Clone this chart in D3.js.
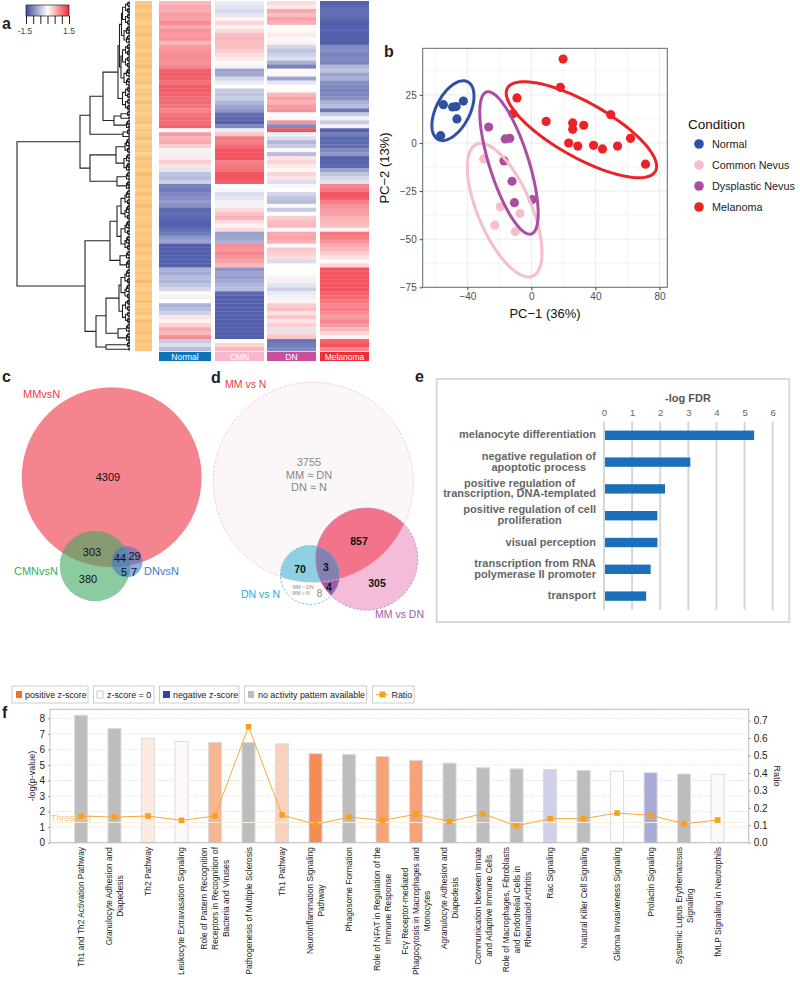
<!DOCTYPE html>
<html>
<head>
<meta charset="utf-8">
<script src="https://cdn.jsdelivr.net/npm/d3@7"></script>
<style>
  html, body { margin: 0; padding: 0; background: #fff; }
  text { font-family: "Liberation Sans", Arial, sans-serif; }
</style>
</head>
<body>
<svg id="fig" width="800" height="981"></svg>
<script>
// panel a, one value per row, top to bottom
const heatNormal = [.5,.6,.6,.7,.65,.8,.6,.75,.7,.75,.5,.7,.75,.8,.8,.75,.85,1.1,1.15,1.1,1,1.15,1.15,1.1,1.05,1.05,1,.85,1,1.05,1.05,1.1,.05,.7,.55,.6,.35,.1,-.1,.15,.35,.2,-.2,-.45,-.5,-.35,-.95,-1,-.9,-.85,-.75,-.85,-1.15,-1.1,-1.15,-1.2,-1.2,-1.1,-1,-.8,-.7,-1.3,-1.3,-1.25,-1.3,-1.3,-1.25,-.6,-.65,-.5,-.55,-.45,-.3,.05,-.1,0,-.6,-.5,-.35,.2,.1,.3,.6,.5,.8,-.4,-.25,-.5];
const heatCMN = [-.15,-.2,-.3,-.2,.1,.3,.1,.25,.45,.5,.45,.45,.35,.25,.15,.05,-.1,-.7,-.65,-.3,-.15,0,-.4,-.45,-.4,-.55,-.7,-.8,-1.1,-1.15,-1.2,-.9,-.15,.4,.95,.9,1.05,1.2,1.2,1.2,.9,.95,1,1.25,1.2,1.15,0,-.05,-.25,-.2,-.1,.1,.25,.4,.55,.25,.1,.25,-.7,-.7,-.6,.8,.75,.85,.75,.65,.5,-.8,-.7,-.75,-.65,-.55,-.5,-1.15,-1.2,-1.25,-1.2,-1.25,-1.25,-1.3,-1.3,-1.35,-1.3,-1.25,-1.35,0,.3,.5];
const heatDN = [.25,.15,.6,.45,.65,.55,.02,.05,.15,.05,.1,-.3,-.45,-.35,-.25,-.6,-.95,.05,-.05,-.7,-.2,0,.02,.5,.65,.55,.7,.75,0,-.05,.75,-.9,1.3,-.1,-.25,-.55,-.4,.05,-.5,.2,.3,.15,.05,.3,.2,-.25,-.05,0,-.3,-.45,-.5,-.05,-.4,0,.35,.45,.5,.05,.6,.65,.55,.05,.4,.35,.25,-.25,0,.03,0,.1,-.1,-.2,-.35,-.15,-.1,.1,.35,.45,.2,.4,.2,.35,-.2,.25,.4,-1.05,-1,-.9];
const heatMelanoma = [-1.2,-1.15,-1.1,-1.1,-1.15,-1.2,-1.2,-1.15,-1.2,-1.3,-1.3,-.9,-.85,-.95,-.9,-.95,-.55,-.45,-.7,-.6,-.85,-.9,-.95,-.9,-.85,-.6,-.5,-1.05,-.4,-.1,-.4,-.1,-1.35,-1,-1.15,-1.15,-1.1,-.9,-.8,-1.4,-1.35,-1.15,-.7,-.45,-.3,-.2,.85,.95,1.2,1.15,.9,.75,.7,.65,.55,.5,.45,.1,.95,.9,.75,.6,.5,.35,.2,.05,.3,1.25,1.3,1.3,1.25,1.25,1.2,1.1,1.05,.95,.85,.9,.8,.7,.85,.7,.5,.3,.1,1.1,1.2,.85];
const heatStrip = [.4,.6,.3,.7,.5,.2,.6,.4,.8,.3,.5,.6,.2,.7,.4,.5,.9,.3,.6,.4,.7,.2,.5,.6,.3,.8,.4,.5,.3,.6,.7,.2,.5,.4,.8,.3,.6,.5,.2,.7,.4,.6,.3,.9,.5,.4,.6,.2,.7,.3,.5,.8,.4,.6,.3,.5,.7,.2,.6,.4,.5,.8,.3,.6,.2,.5,.7,.4,.6,.3,.9,.5,.2,.6,.4,.7,.3,.5,.6,.2,.8,.4,.5,.7,.3,.6,.4,.5];
const heatGroups = ["Normal", "CMN", "DN", "Melanoma"];

// dendrogram: [height, child, child], 0 is a leaf
const q1 = [1.2,0,0], q2 = [2.5,q1,q1], q3 = [3.5,q2,q1], q4 = [4.5,q2,q2], q5 = [5,q3,q2], q6 = [6,q3,q3], q8 = [7.5,q4,q4], q10 = [9,q5,q5];
const dendroTop = [40, [27, [12, [10.5,[8.5,q8,q6],[9,q8,q6]], q8], [16,[9,q2,q1],q3]], [7,q2,q1]];
const dendroMid = [40, [14,q5,q6], [13,q3,q3]];
const dendroLow = [20, [13,q10,q10], [10,q3,q3]];
const dendroEnd = [34, [24,[11,q10,q8],[12,q3,q3]], [24,q2,q1]];
const dendro = [113, [50,dendroTop,dendroMid], [45,dendroLow,dendroEnd]];

// panel b
const pcaConditions = ["Normal", "Common Nevus", "Dysplastic Nevus", "Melanoma"];
const pcaNormal = [[-55,19.9],[-49.2,18.7],[-47,18.9],[-42.5,21.8],[-46.5,12.5],[-56.7,3.8]];
const pcaCommon = [[-29.8,-8.3],[-19.4,-33.2],[-22.9,-42.7],[-7.1,-36.7],[-10,-46]];
const pcaDysplastic = [[-26.7,8.3],[-16.3,2.1],[-13.5,2.4],[-17.1,-9.3],[-12.1,-19.9],[-10.6,-31],[.6,-29.4]];
const pcaMelanoma = [[19.8,43.6],[18.1,28.9],[-9,23.4],[-11.5,15.2],[9.2,11.2],[25.8,10.4],[25.8,7.1],[32.7,9.2],[49.6,14.7],[61.9,2.4],[23.3,0],[29,-1.6],[38.8,-1.2],[44.4,-3.1],[53.8,-1.6],[71.3,-11]];
// centre, then the two semi axes, in data units
const pcaEllipses = [
  [[-49,16.8],[9.2,15],[9.4,-4]],
  [[-16.7,-34.9],[17.5,-34.3],[15.4,5.4]],
  [[-14,-10.4],[14,-36.9],[11.7,3.1]],
  [[31.25,6.9],[46.25,-21.6],[8.3,12.5]]
];

// panel e
const goTerms = [
  ["melanocyte differentiation"],
  ["negative regulation of", "apoptotic process"],
  ["positive regulation of", "transcription, DNA-templated"],
  ["positive regulation of cell", "proliferation"],
  ["visual perception"],
  ["transcription from RNA", "polymerase II promoter"],
  ["transport"]
];
const goFdr = [5.34, 3.07, 2.17, 1.9, 1.9, 1.66, 1.5];

// panel f
const pathways = [
  ["Th1 and Th2 Activation Pathway"],
  ["Granulocyte Adhesion and", "Diapedesis"],
  ["Th2 Pathway"],
  ["Leukocyte Extravasation Signaling"],
  ["Role of Pattern Recognition", "Receptors in Recognition of", "Bacteria and Viruses"],
  ["Pathogenesis of Multiple Sclerosis"],
  ["Th1 Pathway"],
  ["Neuroinflammation Signaling", "Pathway"],
  ["Phagosome Formation"],
  ["Role of NFAT in Regulation of the", "Immune Response"],
  ["Fc\u03b3 Receptor-mediated", "Phagocytosis in Macrophages and", "Monocytes"],
  ["Agranulocyte Adhesion and", "Diapedesis"],
  ["Communication between Innate", "and Adaptive Immune Cells"],
  ["Role of Macrophages, Fibroblasts", "and Endothelial Cells in", "Rheumatoid Arthritis"],
  ["Rac Signaling"],
  ["Natural Killer Cell Signaling"],
  ["Glioma Invasiveness Signaling"],
  ["Prolactin Signaling"],
  ["Systemic Lupus Erythematosus", "Signaling"],
  ["fMLP Signaling in Neutrophils"]
];
const pValues = [8.2,7.35,6.72,6.52,6.45,6.45,6.36,5.73,5.67,5.55,5.3,5.12,4.82,4.75,4.7,4.65,4.6,4.5,4.42,4.4];
const ratios = [.153,.147,.153,.128,.153,.665,.159,.105,.147,.128,.163,.122,.166,.096,.138,.138,.17,.157,.109,.13];
const zScores = [null,null,.35,.1,1.3,null,.8,2,null,1.6,1.6,null,null,null,-.6,null,0,-1.1,null,.1];

const svg = d3.select("#fig");
const label = (x, y, t, size, fill, weight) => svg.append("text")
  .attr("x", x).attr("y", y).attr("font-size", size).attr("fill", fill || "#000")
  .attr("font-weight", weight || "normal").text(t);

// panel letters
[["a",2,29],["b",384,57],["c",2,382],["d",211,383],["e",415,382],["f",2,718]].forEach(d => {
  label(d[1], d[2], d[0], 16, "#222", "bold");
});

// ---- a: heat map
const defs = svg.append("defs");
defs.append("filter").attr("id", "soft").append("feGaussianBlur").attr("stdDeviation", "0 0.7");
const heatColor = d3.scaleLinear().domain([-1.2, 0, 1.2]).range(["#5561ac", "#ffffff", "#f2545f"]).clamp(true);
const rowY = d3.scaleBand().domain(d3.range(heatNormal.length)).range([1, 351]);
const heatCols = [
  { x0: 159, x1: 211, v: heatNormal, c: "#0a74bb" },
  { x0: 215, x1: 264, v: heatCMN, c: "#f8b6cf" },
  { x0: 267, x1: 316, v: heatDN, c: "#c94f9e" },
  { x0: 320, x1: 369, v: heatMelanoma, c: "#ee2d36" }
];
heatCols.forEach((col, i) => {
  svg.append("g").attr("filter", "url(#soft)").selectAll("rect").data(col.v).join("rect")
    .attr("x", col.x0).attr("width", col.x1 - col.x0)
    .attr("y", (d, r) => rowY(r)).attr("height", rowY.bandwidth() + .3)
    .attr("fill", d => heatColor(d));
  svg.append("rect").attr("x", col.x0).attr("y", 352).attr("width", col.x1 - col.x0).attr("height", 9).attr("fill", col.c);
  svg.append("text").attr("x", (col.x0 + col.x1) / 2).attr("y", 360).attr("text-anchor", "middle")
    .attr("font-size", 8.5).attr("fill", "#fff").text(heatGroups[i]);
});
const stripColor = d3.scaleLinear().domain([0, 1]).range(["#fdd596", "#f9b768"]);
svg.append("g").selectAll("rect").data(heatStrip).join("rect")
  .attr("x", 135).attr("width", 17)
  .attr("y", (d, r) => rowY(r)).attr("height", rowY.bandwidth() + .3)
  .attr("fill", d => stripColor(d));

// colour key
const keyGrad = defs.append("linearGradient").attr("id", "keyGrad");
[[0,"#3f4aa0"],[.5,"#ffffff"],[1,"#ee2d36"]].forEach(d => keyGrad.append("stop").attr("offset", d[0]).attr("stop-color", d[1]));
svg.append("rect").attr("x", 26).attr("y", 5).attr("width", 43).attr("height", 11).attr("fill", "url(#keyGrad)").attr("stroke", "#222").attr("stroke-width", .7);
const keyX = d3.scaleLinear().domain([-1.5, 1.5]).range([26, 69]);
svg.append("g").attr("transform", "translate(0,16)")
  .call(d3.axisBottom(keyX).tickValues([-1.5,-1,-.5,0,.5,1,1.5]).tickSize(8).tickFormat(""))
  .call(g => g.select(".domain").remove())
  .call(g => g.selectAll("line").attr("stroke", "#222"));
svg.append("text").attr("x", 25).attr("y", 34).attr("text-anchor", "middle").attr("font-size", 8.5).attr("fill", "#444").text("-1.5");
svg.append("text").attr("x", 69).attr("y", 34).attr("text-anchor", "middle").attr("font-size", 8.5).attr("fill", "#444").text("1.5");

// dendrogram
const dendroX = d3.scaleLinear().domain([0, 113]).range([130, 17]);
let leafCount = 0;
const countLeaves = n => { if (!n) leafCount++; else { countLeaves(n[1]); countLeaves(n[2]); } };
countLeaves(dendro);
const leafY = d3.scaleLinear().domain([0, leafCount - 1]).range([2, 350]);
let leafNo = 0, dendroPath = "";
function walk(n) {
  if (!n) return { x: dendroX(0), y: leafY(leafNo++) };
  const a = walk(n[1]), b = walk(n[2]), x = dendroX(n[0]);
  dendroPath += `M${a.x},${a.y}H${x}V${b.y}H${b.x}`;
  return { x: x, y: (a.y + b.y) / 2 };
}
walk(dendro);
svg.append("path").attr("d", dendroPath).attr("fill", "none").attr("stroke", "#222").attr("stroke-width", 1.1);

// ---- b: PCA
const pcaColors = ["#2f50a3", "#f8bccb", "#ab4da0", "#ec2227"];
const pcaX = d3.scaleLinear().domain([-67.9, 84.9]).range([422.7, 667.3]);
const pcaY = d3.scaleLinear().domain([-75, 49.2]).range([287.3, 48.3]);
const pcaG = svg.append("g");
[-60,-20,20,60].forEach(v => pcaG.append("line").attr("x1", pcaX(v)).attr("x2", pcaX(v)).attr("y1", 48.3).attr("y2", 287.3).attr("stroke", "#f4f4f4"));
[37.5,12.5,-12.5,-37.5,-62.5].forEach(v => pcaG.append("line").attr("y1", pcaY(v)).attr("y2", pcaY(v)).attr("x1", 422.7).attr("x2", 667.3).attr("stroke", "#f4f4f4"));
[-40,0,40,80].forEach(v => pcaG.append("line").attr("x1", pcaX(v)).attr("x2", pcaX(v)).attr("y1", 48.3).attr("y2", 287.3).attr("stroke", "#ebebeb"));
[25,0,-25,-50].forEach(v => pcaG.append("line").attr("y1", pcaY(v)).attr("y2", pcaY(v)).attr("x1", 422.7).attr("x2", 667.3).attr("stroke", "#ebebeb"));
[pcaNormal, pcaCommon, pcaDysplastic, pcaMelanoma].forEach((pts, i) => {
  pcaG.append("g").selectAll("circle").data(pts).join("circle")
    .attr("cx", d => pcaX(d[0])).attr("cy", d => pcaY(d[1])).attr("r", 4.6).attr("fill", pcaColors[i]);
});
const ellipseLine = d3.line().curve(d3.curveLinearClosed);
pcaEllipses.forEach((e, i) => {
  const pts = d3.range(0, 360, 4).map(t => {
    const r = t * Math.PI / 180;
    return [pcaX(e[0][0] + e[1][0] * Math.cos(r) + e[2][0] * Math.sin(r)),
            pcaY(e[0][1] + e[1][1] * Math.cos(r) + e[2][1] * Math.sin(r))];
  });
  pcaG.append("path").attr("d", ellipseLine(pts)).attr("fill", "none").attr("stroke", pcaColors[i]).attr("stroke-width", 3);
});
pcaG.append("rect").attr("x", 422.7).attr("y", 48.3).attr("width", 244.6).attr("height", 239).attr("fill", "none").attr("stroke", "#666");
const styleAxis = g => {
  g.select(".domain").remove();
  g.selectAll("line").attr("stroke", "#444");
  g.selectAll("text").attr("font-size", 10).attr("fill", "#4d4d4d").attr("font-family", '"Liberation Sans"');
};
const minusFmt = d => String(d).replace("-", "\u2212");
svg.append("g").attr("transform", "translate(0,287.3)").call(d3.axisBottom(pcaX).tickValues([-40,0,40,80]).tickSize(3).tickFormat(minusFmt)).call(styleAxis);
svg.append("g").attr("transform", "translate(422.7,0)").call(d3.axisLeft(pcaY).tickValues([25,0,-25,-50,-75]).tickSize(3).tickFormat(minusFmt)).call(styleAxis);
svg.append("text").attr("x", 545).attr("y", 318).attr("text-anchor", "middle").attr("font-size", 13).attr("fill", "#111").text("PC\u22121 (36%)");
svg.append("text").attr("transform", "translate(389,168) rotate(-90)").attr("text-anchor", "middle").attr("font-size", 13).attr("fill", "#111").text("PC\u22122 (13%)");
label(688, 129, "Condition", 13.5, "#111");
pcaConditions.forEach((c, i) => {
  const y = 144 + i * 21;
  svg.append("circle").attr("cx", 699).attr("cy", y).attr("r", 4.8).attr("fill", pcaColors[i]);
  label(712, y + 4, c, 10.8, "#222");
});

// ---- c: venn
svg.append("circle").attr("cx", 111.7).attr("cy", 477.3).attr("r", 90).attr("fill", "#ee4453").attr("opacity", .66);
svg.append("circle").attr("cx", 95).attr("cy", 566).attr("r", 35.3).attr("fill", "#3fa85f").attr("opacity", .6);
svg.append("circle").attr("cx", 127).attr("cy", 561.7).attr("r", 15.5).attr("fill", "#3f78cc").attr("opacity", .6);
const mid = (x, y, t, size, fill, weight) => svg.append("text")
  .attr("x", x).attr("y", y).attr("text-anchor", "middle").attr("dominant-baseline", "central")
  .attr("font-size", size).attr("fill", fill || "#111").attr("font-weight", weight || "normal").text(t);
label(23, 398, "MMvsN", 11, "#ef3b45");
label(14, 575, "CMNvsN", 11, "#35ad5c");
label(144, 575, "DNvsN", 11, "#3a7cc8");
[[108,477,"4309"],[92,552,"303"],[88,579,"380"],[120,558,"44"],[134.5,556,"29"],[124,572,"5"],[134,572,"7"]].forEach(d => mid(d[0], d[1], d[2], 11));

// ---- d: venn with clipped regions
const vBig = [313.3, 482.3, 100], vMd = [366.7, 559, 51], vDn = [310, 575, 29.5];
[["clipBig", vBig], ["clipMd", vMd]].forEach(d => {
  defs.append("clipPath").attr("id", d[0]).append("circle").attr("cx", d[1][0]).attr("cy", d[1][1]).attr("r", d[1][2]);
});
const disc = (parent, c, fill) => parent.append("circle").attr("cx", c[0]).attr("cy", c[1]).attr("r", c[2]).attr("fill", fill);
disc(svg, vBig, "#fbf7f9");
disc(svg, vDn, "#ffffff");
disc(svg, vMd, "#f4bcd8");
disc(svg.append("g").attr("clip-path", "url(#clipMd)"), vDn, "#a45aa8");
const inBig = svg.append("g").attr("clip-path", "url(#clipBig)");
disc(inBig, vMd, "#f3738a");
disc(inBig, vDn, "#8ed0e3");
disc(inBig.append("g").attr("clip-path", "url(#clipMd)"), vDn, "#8480b0");
[[vBig, "#f8b9c6"], [vMd, "#b97cbc"], [vDn, "#52b7dd"]].forEach(d => {
  disc(svg, d[0], "none").attr("stroke", d[1]).attr("stroke-dasharray", "2.5,1.5").attr("stroke-width", .8);
});
label(225, 388, "MM vs N", 10.5, "#ef3b45");
label(241, 598, "DN vs N", 10.5, "#2fa9d6");
label(375, 618, "MM vs DN", 10.5, "#a45aa8");
mid(309, 462, "3755", 11, "#888");
mid(309, 474.5, "MM \u2248 DN", 11, "#888");
mid(309, 487, "DN \u2248 N", 11, "#888");
mid(359, 540.5, "857", 10.5, "#111", "bold");
mid(377, 583, "305", 10.5, "#111", "bold");
mid(300, 569, "70", 10.5, "#111", "bold");
mid(326, 567, "3", 10.5, "#111", "bold");
mid(329, 587, "4", 10.5, "#111", "bold");
mid(319.5, 593, "8", 10, "#888");
mid(303, 586.5, "MM \u2248 DN", 5, "#888");
mid(301, 593, "MM \u2248 N", 5, "#888");

// ---- e: GO bars
svg.append("rect").attr("x", 436.7).attr("y", 379).attr("width", 352.6).attr("height", 243).attr("fill", "#fff").attr("stroke", "#d9d9d9").attr("stroke-width", 2);
const goX = d3.scaleLinear().domain([0, 6]).range([604, 772.7]);
const goY = d3.scaleBand().domain(d3.range(goTerms.length)).range([421.9, 609.5]).paddingInner(.65).paddingOuter(.325);
svg.append("g").selectAll("line").data(goX.ticks(6)).join("line")
  .attr("x1", d => goX(d)).attr("x2", d => goX(d)).attr("y1", 421.7).attr("y2", 610)
  .attr("stroke", "#d6d6d6").attr("stroke-width", 2);
svg.append("g").attr("transform", "translate(0,418.5)")
  .call(d3.axisTop(goX).ticks(6).tickSize(0).tickFormat(d3.format("d")))
  .call(g => g.select(".domain").remove())
  .call(g => g.selectAll("text").attr("font-size", 9.5).attr("fill", "#666").attr("font-family", '"Liberation Sans"'));
svg.append("text").attr("x", 688).attr("y", 402).attr("text-anchor", "middle").attr("font-size", 11).attr("font-weight", "bold").attr("fill", "#555").text("-log FDR");
svg.append("g").selectAll("rect").data(goFdr).join("rect")
  .attr("x", goX(0) + 1).attr("y", (d, i) => goY(i))
  .attr("width", d => goX(d) - goX(0) - 1).attr("height", goY.bandwidth())
  .attr("fill", "#1b6fbb");
// multi line labels: lines centred on each other, block set against a right edge
function blockLabel(g, lines, lineGap, size, fill, weight) {
  const t = lines.map((s, i) => g.append("text").attr("text-anchor", "middle")
    .attr("y", (i - (lines.length - 1) / 2) * lineGap).attr("font-size", size)
    .attr("font-weight", weight).attr("fill", fill).attr("dominant-baseline", "central").text(s));
  return d3.max(t, n => n.node().getComputedTextLength());
}
goTerms.forEach((lines, i) => {
  const g = svg.append("g");
  const w = blockLabel(g, lines, 10.8, 11, "#666", "bold");
  g.attr("transform", `translate(${596 - w / 2},${goY(i) + goY.bandwidth() / 2 - 1})`);
});

// ---- f: pathway bars
const pathX = d3.scaleBand().domain(d3.range(pathways.length)).range([54, 744.6]).padding(.61);
const pathY = d3.scaleLinear().domain([0, 8.58]).range([842.7, 709.3]);
const ratioY = d3.scaleLinear().domain([0, .765]).range([842.7, 709.3]);
const zColor = d3.scaleLinear().domain([-2.5, 0, 2.5]).range(["#3a3f9f", "#ffffff", "#f0702a"]);
const legendBox = (x, w) => svg.append("rect").attr("x", x).attr("y", 686).attr("width", w).attr("height", 17).attr("fill", "#fff").attr("stroke", "#ccc");
const swatch = (x, w, fill, stroke) => svg.append("rect").attr("x", x).attr("y", 691).attr("width", w).attr("height", 7).attr("fill", fill).attr("stroke", stroke || "none");
legendBox(12, 76); swatch(16, 6, "#f0702a"); label(25, 698, "positive z-score", 8.9, "#222");
legendBox(93.5, 60.5); swatch(97, 6, "#fff", "#ccc"); label(107, 698, "z-score = 0", 8.9, "#222");
legendBox(159.5, 79.5); swatch(163, 7, "#3344a0"); label(173, 698, "negative z-score", 8.9, "#222");
legendBox(244.5, 122); swatch(248, 6, "#bdbdbd"); label(258, 698, "no activity pattern available", 8.9, "#222");
legendBox(372.5, 41.5);
svg.append("line").attr("x1", 376).attr("x2", 388).attr("y1", 694.5).attr("y2", 694.5).attr("stroke", "#f7a93a");
svg.append("rect").attr("x", 379.5).attr("y", 691.5).attr("width", 6).attr("height", 6).attr("fill", "#f7a01f");
label(391.5, 698, "Ratio", 8.9, "#222");

svg.append("g").selectAll("line").data(d3.range(1, 9)).join("line")
  .attr("x1", 50).attr("x2", 748.7).attr("y1", d => pathY(d)).attr("y2", d => pathY(d))
  .attr("stroke", "#cfe4f0").attr("stroke-dasharray", "1.5,1.5");
svg.append("g").selectAll("rect").data(pValues).join("rect")
  .attr("x", (d, i) => pathX(i)).attr("y", d => pathY(d))
  .attr("width", pathX.bandwidth()).attr("height", d => pathY(0) - pathY(d))
  .attr("fill", (d, i) => zScores[i] === null ? "#bdbdbd" : zColor(zScores[i]))
  .attr("stroke", "#dcdcdc");
svg.append("rect").attr("x", 50).attr("y", 709.3).attr("width", 698.7).attr("height", 133.4).attr("fill", "none").attr("stroke", "#bbb");
svg.append("line").attr("x1", 50).attr("x2", 748.7).attr("y1", pathY(1.3)).attr("y2", pathY(1.3)).attr("stroke", "#fdeeda");
svg.append("text").attr("x", 51).attr("y", 821).attr("font-size", 9).attr("fill", "#fbc580").text("Threshold");
const ratioLine = d3.line().x((d, i) => pathX(i) + pathX.bandwidth() / 2).y(d => ratioY(d));
svg.append("path").attr("d", ratioLine(ratios)).attr("fill", "none").attr("stroke", "#f7a93a").attr("stroke-width", 1);
svg.append("g").selectAll("rect").data(ratios).join("rect")
  .attr("x", (d, i) => pathX(i) + pathX.bandwidth() / 2 - 2.8).attr("y", d => ratioY(d) - 2.8)
  .attr("width", 5.6).attr("height", 5.6).attr("fill", "#f7a01f");
const styleF = g => {
  g.select(".domain").remove();
  g.selectAll("line").attr("stroke", "#999");
  g.selectAll("text").attr("font-size", 10).attr("fill", "#222").attr("font-family", '"DejaVu Sans"');
};
svg.append("g").attr("transform", "translate(50,0)").call(d3.axisLeft(pathY).tickValues(d3.range(0, 9)).tickSize(2).tickFormat(d3.format("d"))).call(styleF);
svg.append("g").attr("transform", "translate(748.7,0)").call(d3.axisRight(ratioY).tickValues(d3.range(0, 8).map(d => d / 10)).tickSize(2).tickFormat(d3.format(".1f"))).call(styleF);
svg.append("text").attr("transform", "translate(35,776) rotate(-90)").attr("text-anchor", "middle").attr("font-size", 9).attr("fill", "#222").text("-log(p-value)");
svg.append("text").attr("transform", "translate(774,776) rotate(90)").attr("text-anchor", "middle").attr("font-size", 9).attr("fill", "#222").text("Ratio");
pathways.forEach((lines, i) => {
  const g = svg.append("g");
  const w = blockLabel(g, lines, 11, 8.4, "#222", "normal");
  g.attr("transform", `translate(${pathX(i) + pathX.bandwidth() / 2},${847 + w / 2}) rotate(-90)`);
});
</script>
</body>
</html>
